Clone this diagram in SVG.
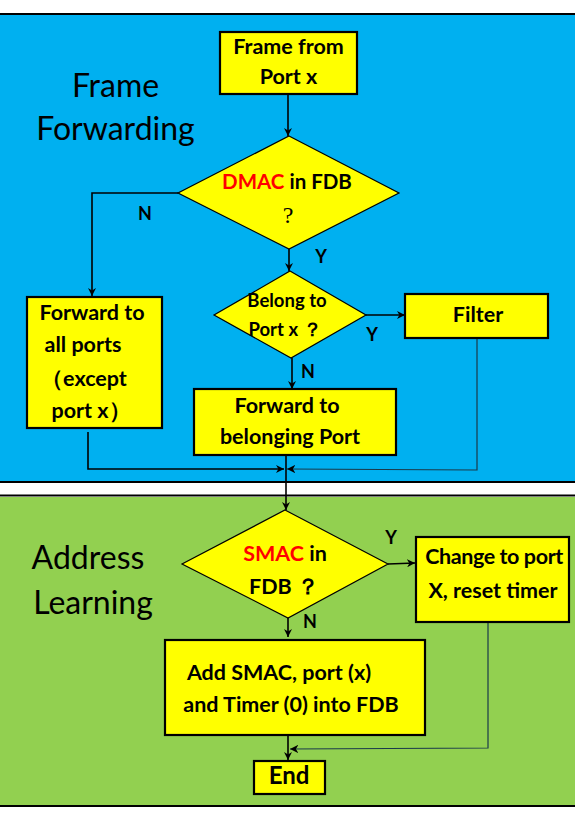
<svg xmlns="http://www.w3.org/2000/svg" width="575" height="820" viewBox="0 0 575 820">
<defs>
<style>
.box{fill:#FFFF00;stroke:#000;stroke-width:2.2}
.dia{fill:#FFFF00;stroke:#000;stroke-width:1.2}
.t{font-family:Lato,"Liberation Sans",sans-serif;font-weight:bold;font-size:21.5px;fill:#000;text-anchor:middle}
.s{font-size:18.5px}
.red{fill:#FF0000}
.title{font-family:Lato,"Liberation Sans",sans-serif;font-size:32px;fill:#000;text-anchor:middle}
.lbl{font-family:Lato,"Liberation Sans",sans-serif;font-weight:bold;font-size:18px;fill:#000;text-anchor:middle}
.c{fill:none;stroke:#000;stroke-width:1.6}
.thin{fill:none;stroke:#1a3a4a;stroke-width:1.2}
.sep{stroke:#000;stroke-width:2}
</style>
<marker id="ah" viewBox="0 0 10 10" refX="10" refY="5" markerWidth="5" markerHeight="5" markerUnits="strokeWidth" orient="auto">
<path d="M0,0 L10,5 L0,10 L3,5 Z" fill="#000"/>
</marker>
<marker id="ah2" viewBox="0 0 10 10" refX="10" refY="5" markerWidth="7" markerHeight="7" markerUnits="strokeWidth" orient="auto">
<path d="M0,0 L10,5 L0,10 L3,5 Z" fill="#000"/>
</marker>
</defs>
<rect x="0" y="0" width="575" height="820" fill="#fff"/>
<rect x="0" y="15" width="575" height="466" fill="#00B0F0"/>
<rect x="0" y="497" width="575" height="308" fill="#92D050"/>
<line class="sep" x1="0" y1="14" x2="575" y2="14"/>
<line class="sep" x1="0" y1="482" x2="575" y2="482"/>
<line class="sep" x1="0" y1="495.5" x2="575" y2="495.5"/>
<line class="sep" x1="0" y1="806" x2="575" y2="806"/>

<g id="title-forwarding">
<text class="title" x="115.5" y="97">Frame</text>
<text class="title" x="115.5" y="140">Forwarding</text>
</g>
<g id="title-learning">
<text class="title" x="88" y="569">Address</text>
<text class="title" x="93" y="614">Learning</text>
</g>

<g id="connectors">
<line class="c" x1="288" y1="94" x2="288" y2="136" marker-end="url(#ah)"/>
<polyline class="c" points="178,193 92,193 92,296" marker-end="url(#ah)"/>
<line class="c" x1="289" y1="249" x2="289" y2="271" marker-end="url(#ah)"/>
<line class="c" x1="366" y1="315" x2="405" y2="315" marker-end="url(#ah)"/>
<line class="c" x1="292" y1="358" x2="292" y2="389" marker-end="url(#ah)"/>
<polyline class="c" points="88,432 88,469 284,469" marker-end="url(#ah)"/>
<polyline class="thin" points="477,338 477,470 287,469" marker-end="url(#ah2)"/>
<line class="c" x1="286" y1="455" x2="286" y2="510" marker-end="url(#ah)"/>
<line class="c" x1="388" y1="564" x2="415" y2="563" marker-end="url(#ah)"/>
<line class="c" x1="288" y1="618" x2="288" y2="637" marker-end="url(#ah)"/>
<line class="c" x1="288" y1="736" x2="288" y2="760" marker-end="url(#ah)"/>
<polyline class="thin" points="488,622 488,748 290,749" marker-end="url(#ah2)"/>
<text class="lbl" x="145" y="220">N</text>
<text class="lbl" x="321" y="263">Y</text>
<text class="lbl" x="372" y="341">Y</text>
<text class="lbl" x="308" y="378">N</text>
<text class="lbl" x="391" y="544">Y</text>
<text class="lbl" x="310" y="628">N</text>
</g>

<g id="frame-from">
<rect class="box" x="220" y="32" width="137" height="62"/>
<text class="t" x="288.5" y="54">Frame from</text>
<text class="t" x="288.5" y="84">Port x</text>
</g>

<g id="dmac-decision">
<polygon class="dia" points="289,136 399,193 289,249 178,193"/>
<text class="t" x="287" y="189" style="font-size:20.5px"><tspan class="red">DMAC</tspan> in FDB</text>
<text x="288" y="223" style="font-family:'Liberation Serif',serif;font-size:24px;text-anchor:middle;fill:#000">?</text>
</g>

<g id="forward-all">
<rect class="box" x="27" y="297" width="135" height="131"/>
<text class="t" x="92" y="320">Forward to</text>
<text class="t" x="83" y="352">all ports</text>
<text class="t" x="84" y="386">（except</text>
<text class="t" x="91" y="418">port x）</text>
</g>

<g id="belong-decision">
<polygon class="dia" points="290,271 366,315 291,358 214,315"/>
<text class="t s" x="287" y="307">Belong to</text>
<text class="t s" x="285" y="336">Port x ？</text>
</g>

<g id="filter">
<rect class="box" x="405" y="294" width="143" height="44"/>
<text class="t" x="478" y="322">Filter</text>
</g>

<g id="forward-belonging">
<rect class="box" x="194" y="389" width="202" height="66"/>
<text class="t" x="287" y="413">Forward to</text>
<text class="t" x="290" y="444">belonging Port</text>
</g>

<g id="smac-decision">
<polygon class="dia" points="285,510 388,564 288,618 182,564"/>
<text class="t" x="285" y="561"><tspan class="red">SMAC</tspan> in</text>
<text class="t" x="284" y="594">FDB ？</text>
</g>

<g id="change-port">
<rect class="box" x="416" y="537" width="153" height="85"/>
<text class="t" x="494" y="564" style="letter-spacing:-0.4px">Change to port</text>
<text class="t" x="493" y="598">X, reset timer</text>
</g>

<g id="add-smac">
<rect class="box" x="165" y="640" width="260" height="95"/>
<text class="t" x="279" y="680">Add SMAC, port (x)</text>
<text class="t" x="291" y="712">and Timer (0) into FDB</text>
</g>

<g id="end">
<rect class="box" x="254" y="761" width="71" height="33"/>
<text class="t" x="289" y="784" style="font-size:24px">End</text>
</g>
</svg>
